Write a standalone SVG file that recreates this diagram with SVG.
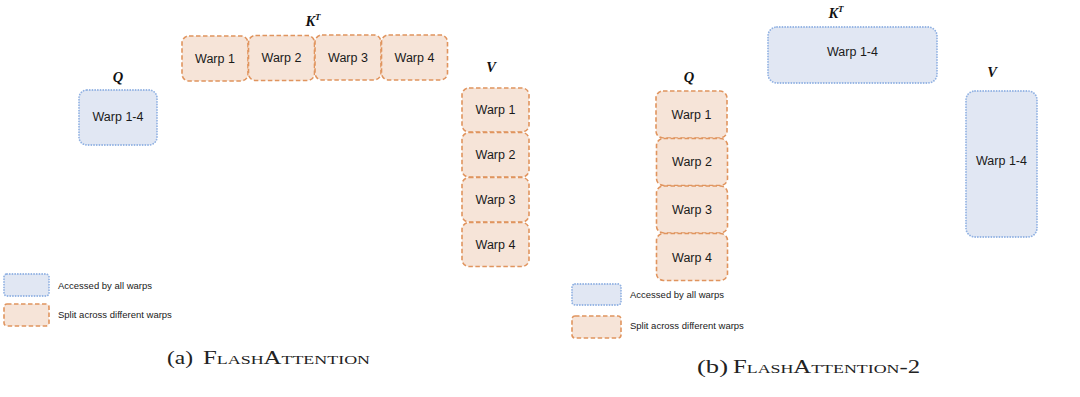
<svg xmlns="http://www.w3.org/2000/svg" width="1080" height="397" viewBox="0 0 1080 397">
<style>
.or{fill:#f6e4d8;stroke:#e0945e;stroke-width:1.6;stroke-dasharray:4.5 2.5}
.bl{fill:#e1e7f3;stroke:#93b3e3;stroke-width:1.8;stroke-dasharray:0.1 2.6;stroke-linecap:round}
.t{font-family:"Liberation Sans",Arial,sans-serif;font-size:12.5px;fill:#1a1a1a;text-anchor:middle;dominant-baseline:central}
.lg{font-family:"Liberation Sans",Arial,sans-serif;font-size:9.5px;fill:#1a1a1a;dominant-baseline:central}
.m{font-family:"Liberation Serif","Times New Roman",serif;font-weight:bold;font-style:italic;font-size:14.5px;fill:#111;text-anchor:middle}
.cap{font-family:"Liberation Serif","Times New Roman",serif;font-size:18px;fill:#222}
.sc{font-variant:small-caps}
</style>
<rect width="1080" height="397" fill="#fff"/>
<g id="connectors"/>
<!-- Panel a -->
<g id="a-Q"><text class="m" x="118" y="82">Q</text><rect class="bl" x="79" y="90" width="78" height="55" rx="8"/><text class="t" x="118" y="117">Warp 1-4</text></g>
<g id="a-K"><text class="m" x="313" y="26">K<tspan font-size="9" dy="-6">T</tspan></text>
<rect class="or" x="182" y="36" width="66" height="45" rx="7"/><text class="t" x="215" y="58.5">Warp 1</text>
<rect class="or" x="248.5" y="35.5" width="66" height="45" rx="7"/><text class="t" x="281.5" y="58">Warp 2</text>
<rect class="or" x="315" y="35" width="66" height="45" rx="7"/><text class="t" x="348" y="57.5">Warp 3</text>
<rect class="or" x="381.5" y="35" width="66" height="45" rx="7"/><text class="t" x="414.5" y="57.5">Warp 4</text></g>
<g id="a-V"><text class="m" x="491" y="72">V</text>
<rect class="or" x="462" y="88" width="67" height="44" rx="7"/><text class="t" x="495.5" y="110">Warp 1</text>
<rect class="or" x="462" y="132.5" width="67" height="44.5" rx="7"/><text class="t" x="495.5" y="155">Warp 2</text>
<rect class="or" x="462" y="177.5" width="67" height="44.5" rx="7"/><text class="t" x="495.5" y="200">Warp 3</text>
<rect class="or" x="462" y="222.5" width="67" height="44" rx="7"/><text class="t" x="495.5" y="245">Warp 4</text></g>
<g id="a-legend">
<rect class="bl" x="4" y="274" width="45" height="22" rx="3"/><text class="lg" x="58" y="285">Accessed by all warps</text>
<rect class="or" x="4" y="304" width="45" height="22" rx="3"/><text class="lg" x="58" y="314">Split across different warps</text></g>
<g id="a-caption"><text class="cap" x="167" y="364" textLength="26" lengthAdjust="spacingAndGlyphs">(a)</text><text class="cap sc" x="203" y="364" textLength="167" lengthAdjust="spacingAndGlyphs">FlashAttention</text></g>
<!-- Panel b -->
<g id="b-K"><text class="m" x="836" y="18">K<tspan font-size="9" dy="-6">T</tspan></text>
<rect class="bl" x="768" y="27" width="169" height="56" rx="9"/><text class="t" x="852.5" y="52">Warp 1-4</text></g>
<g id="b-Q"><text class="m" x="689" y="82">Q</text>
<rect class="or" x="656" y="91" width="71" height="47" rx="7"/><text class="t" x="691.5" y="115">Warp 1</text>
<rect class="or" x="656.5" y="138.5" width="71" height="47" rx="7"/><text class="t" x="692" y="162">Warp 2</text>
<rect class="or" x="656.5" y="186" width="71" height="47" rx="7"/><text class="t" x="692" y="210">Warp 3</text>
<rect class="or" x="656.5" y="233.5" width="71" height="47" rx="7"/><text class="t" x="692" y="258">Warp 4</text></g>
<g id="b-V"><text class="m" x="992" y="77">V</text>
<rect class="bl" x="966" y="91" width="71" height="146" rx="9"/><text class="t" x="1001.5" y="161">Warp 1-4</text></g>
<g id="b-legend">
<rect class="bl" x="572" y="284" width="49" height="21" rx="3"/><text class="lg" x="630" y="294">Accessed by all warps</text>
<rect class="or" x="572" y="316" width="49" height="22" rx="3"/><text class="lg" x="630" y="325">Split across different warps</text></g>
<g id="b-caption"><text class="cap" x="697" y="373" textLength="31" lengthAdjust="spacingAndGlyphs">(b)</text><text class="cap sc" x="733" y="373" textLength="187" lengthAdjust="spacingAndGlyphs">FlashAttention-2</text></g>
</svg>
